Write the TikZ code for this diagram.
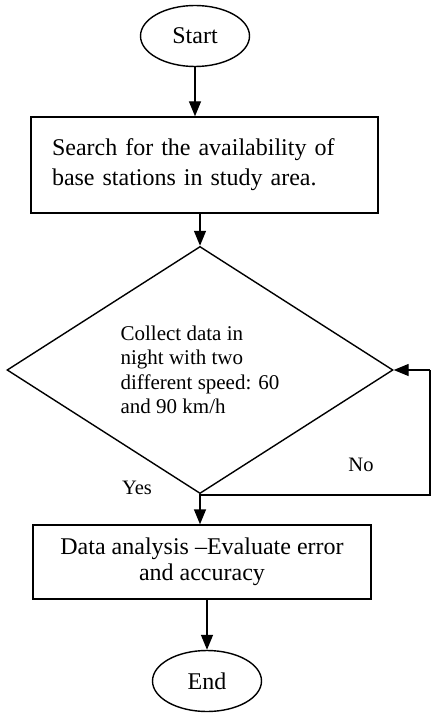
\documentclass[tikz,border=0pt]{standalone}
\usepackage{fontspec}
\setmainfont{Liberation Serif}
\usetikzlibrary{arrows.meta,shapes.geometric}

\begin{document}
\begin{tikzpicture}[x=1pt,y=-1pt,>={Triangle[length=15pt,width=12pt]},line width=1.4pt,
  term/.style={draw,ellipse,minimum width=109pt,minimum height=61pt,inner sep=0pt,font=\fontsize{24}{28}\selectfont},
  procbox/.style={draw,rectangle,inner ysep=0pt},
  decide/.style={draw,diamond,minimum width=386pt,minimum height=214pt,inner sep=0pt,align=left,font=\fontsize{21}{24.5}\selectfont},
  tag/.style={font=\fontsize{20.5}{24}\selectfont}]
\useasboundingbox (0,0) rectangle (431,714);
\node[term] (start) at (195,36) {Start};
\node[procbox,minimum width=347pt,minimum height=96pt,text width=305pt,inner xsep=21pt,align=left,font=\fontsize{24}{30}\selectfont] (search) at (204.5,165) {Search for the availability of\\base stations in study area.};
\node[decide] (collect) at (200,370) {Collect data in\\night with two\\different speed: 60\\and 90 km/h};
\node[procbox,minimum width=338pt,minimum height=74pt,align=center,font=\fontsize{24}{26}\selectfont] (analysis) at (202,562) {Data analysis \textendash Evaluate error\\and accuracy};
\node[term] (end) at (207,681) {End};
\node[tag] (yes) at (137,488) {Yes};
\node[tag] (no) at (361,465) {No};
\coordinate (loopin) at (430,370);
\coordinate (loopcorner) at (430,495);
\coordinate (merge) at (200,495);
% main flow
\draw[->] (start) -- (start |- search.north);
\draw[->] (search.south -| collect.north) -- (collect.north);
\draw (collect.south) -- (merge);
\draw[->] (merge) -- (merge |- analysis.north);
\draw[->] (end.north |- analysis.south) -- (end.north);
% back loop
\draw (merge) -- (loopcorner) -- (loopin);
\draw[->] (loopin) -- (collect.east);
\end{tikzpicture}
\end{document}
